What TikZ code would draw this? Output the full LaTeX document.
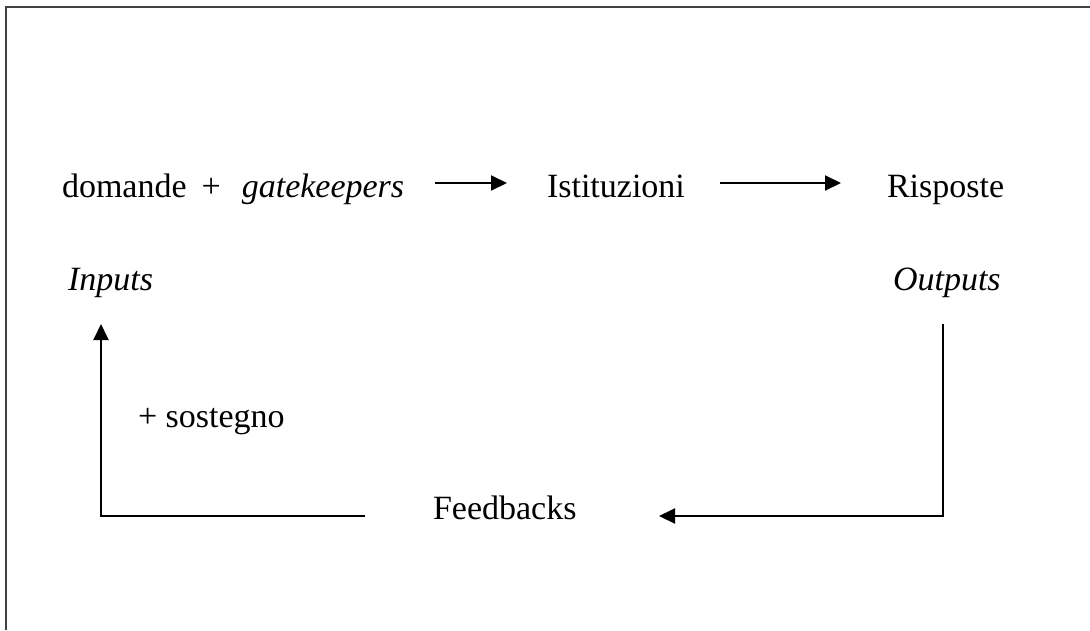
\documentclass[tikz,border=0pt]{standalone}
\usepackage{fontspec}
\setmainfont{Liberation Serif}
\usepackage{tikz}
\usetikzlibrary{positioning,arrows.meta,calc}
\definecolor{ink}{HTML}{000000}
\definecolor{framegray}{HTML}{404040}
\tikzset{
  wordnode/.style={inner sep=0pt, outer sep=0pt, anchor=base west, text=ink, font=\fontsize{34}{41}\selectfont},
  flowarrow/.style={-{Triangle[length=16pt,width=15pt]}, line width=2pt, draw=ink},
  loopline/.style={line width=2pt, draw=ink},
  framepen/.style={line width=2.2pt, draw=framegray}
}

\begin{document}
\begin{tikzpicture}[x=1pt, y=-1pt]
  \useasboundingbox (0,0) rectangle (1090,630);
  % open frame, top and left only
  \draw[framepen] (6,630) -- (6,7) -- (1092,7);
  % upper row
  \node[wordnode] (domande) at (62,197) {domande\hspace{15pt}+\hspace{21pt}\textit{gatekeepers}};
  \node[wordnode] (istituzioni) at (547,197) {Istituzioni};
  \node[wordnode] (risposte) at (887,197) {Risposte};
  \node[wordnode] (inputs) at (68,290) {\textit{Inputs}};
  \node[wordnode] (outputs) at (893,290) {\textit{Outputs}};
  % lower row
  \node[wordnode] (sostegno) at (138,427) {+ sostegno};
  \node[wordnode] (feedbacks) at (433,519) {Feedbacks};
  % connector ends
  \coordinate (a1s) at (435,183);
  \coordinate (a1e) at (507,183);
  \coordinate (a2s) at (720,183);
  \coordinate (a2e) at (841,183);
  \coordinate (intop) at (101,324);
  \coordinate (inbot) at (101,516);
  \coordinate (fbleft) at (365,516);
  \coordinate (outtop) at (943,324);
  \coordinate (outbot) at (943,516);
  \coordinate (fbright) at (659,516);
  \draw[flowarrow] (a1s) -- (a1e);
  \draw[flowarrow] (a2s) -- (a2e);
  \draw[flowarrow] (fbleft) -- (inbot) -- (intop);
  \draw[flowarrow] (outtop) -- (outbot) -- (fbright);
\end{tikzpicture}
\end{document}
